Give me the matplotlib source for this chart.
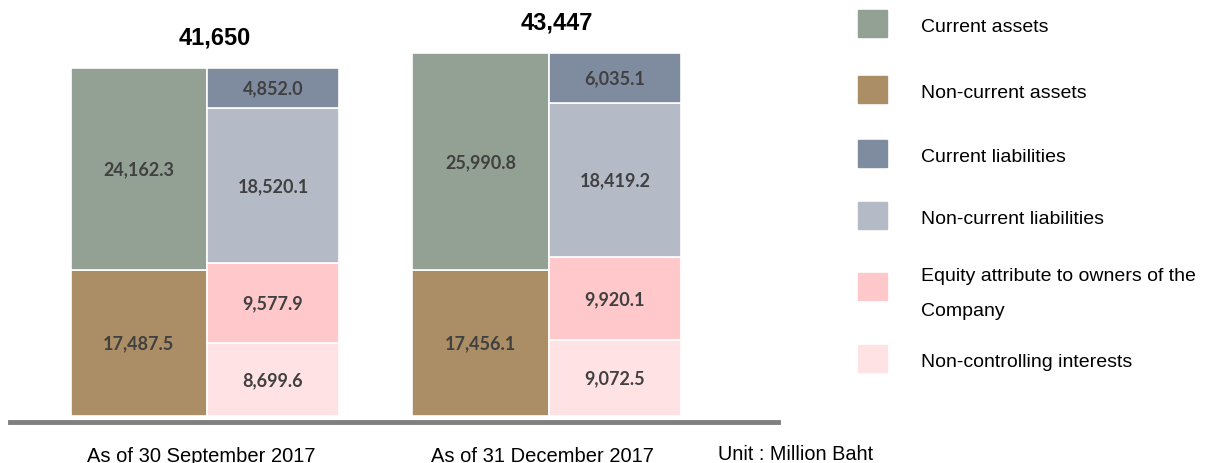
import numpy as np
import matplotlib.pyplot as plt
from matplotlib.patches import Rectangle

# data (million baht)
periods = ["As of 30 September 2017", "As of 31 December 2017"]
totals = ["41,650", "43,447"]
current_assets = [24162.3, 25990.8]
noncurrent_assets = [17487.5, 17456.1]
current_liab = [4852.0, 6035.1]
noncurrent_liab = [18520.1, 18419.2]
equity_owners = [9577.9, 9920.1]
nci = [8699.6, 9072.5]

legend_names = ["Current assets", "Non-current assets", "Current liabilities",
                "Non-current liabilities", "Equity attribute to owners of the\nCompany",
                "Non-controlling interests"]
colors = ["#93a195", "#ab8e66", "#7f8b9f", "#b4bac6", "#ffc8ca", "#ffe2e4"]

fig = plt.figure(figsize=(12.05, 4.64), dpi=100)
W, H = 1205, 464
ax = fig.add_axes([10 / W, (H - 417) / H, 768 / W, 417 / H])

x = np.arange(len(periods))
off = 0.196
label_font = dict(fontfamily="Lato", fontweight="bold", fontsize=13, color="#404040")

def stack(xpos, series, cols, bw):
    bottom = np.zeros(len(xpos))
    for vals, c in zip(series, cols):
        vals = np.array(vals)
        bars = ax.bar(xpos, vals, bw, bottom=bottom, color=c, edgecolor="white", linewidth=1.2)
        for b, v, b0 in zip(bars, vals, bottom):
            ax.text(b.get_x() + b.get_width() / 2, b0 + v / 2, f"{v:,.1f}",
                    ha="center", va="center", **label_font)
        bottom = bottom + vals
    return bottom

top_a = stack(x - off, [noncurrent_assets, current_assets], [colors[1], colors[0]], 0.4)
top_l = stack(x + off, [nci, equity_owners, noncurrent_liab, current_liab],
              [colors[5], colors[4], colors[3], colors[2]], 0.388)

for i in range(len(periods)):
    ax.annotate(totals[i], (x[i] + 0.025, top_a[i]), xytext=(0, 22), textcoords="offset points",
                ha="center", va="center", fontsize=17, fontweight="bold",
                fontfamily="Liberation Sans")

ax.set_xlim(-0.573, 1.673)
ax.set_ylim(0, 417 / 8.36 * 1000)
ax.axhline(-720, color="#808080", linewidth=3.5, clip_on=False)
ax.axis("off")

for i, p in enumerate(periods):
    ax.text(x[i] - 0.015, -4750, p, ha="center", va="center", fontsize=14.5,
            fontfamily="Liberation Sans")
fig.text(718 / W, 1 - 455 / H, "Unit : Million Baht", ha="left", va="center",
         fontsize=14.3, fontfamily="Liberation Sans")

# legend drawn by hand
lax = fig.add_axes([0, 0, 1, 1])
lax.set_xlim(0, W)
lax.set_ylim(H, 0)
lax.axis("off")
rows_y = [24, 90, 154, 216, 287, 359]
for name, c, yy in zip(legend_names, colors, rows_y):
    lax.add_patch(Rectangle((858, yy - 13.5), 29, 27, color=c))
    ty = yy + 4 if "\n" not in name else yy + 7
    lax.text(921, ty, name, ha="left", va="center", fontsize=14,
             fontfamily="Liberation Sans", linespacing=2.35)

fig.savefig("out.png", dpi=100)
